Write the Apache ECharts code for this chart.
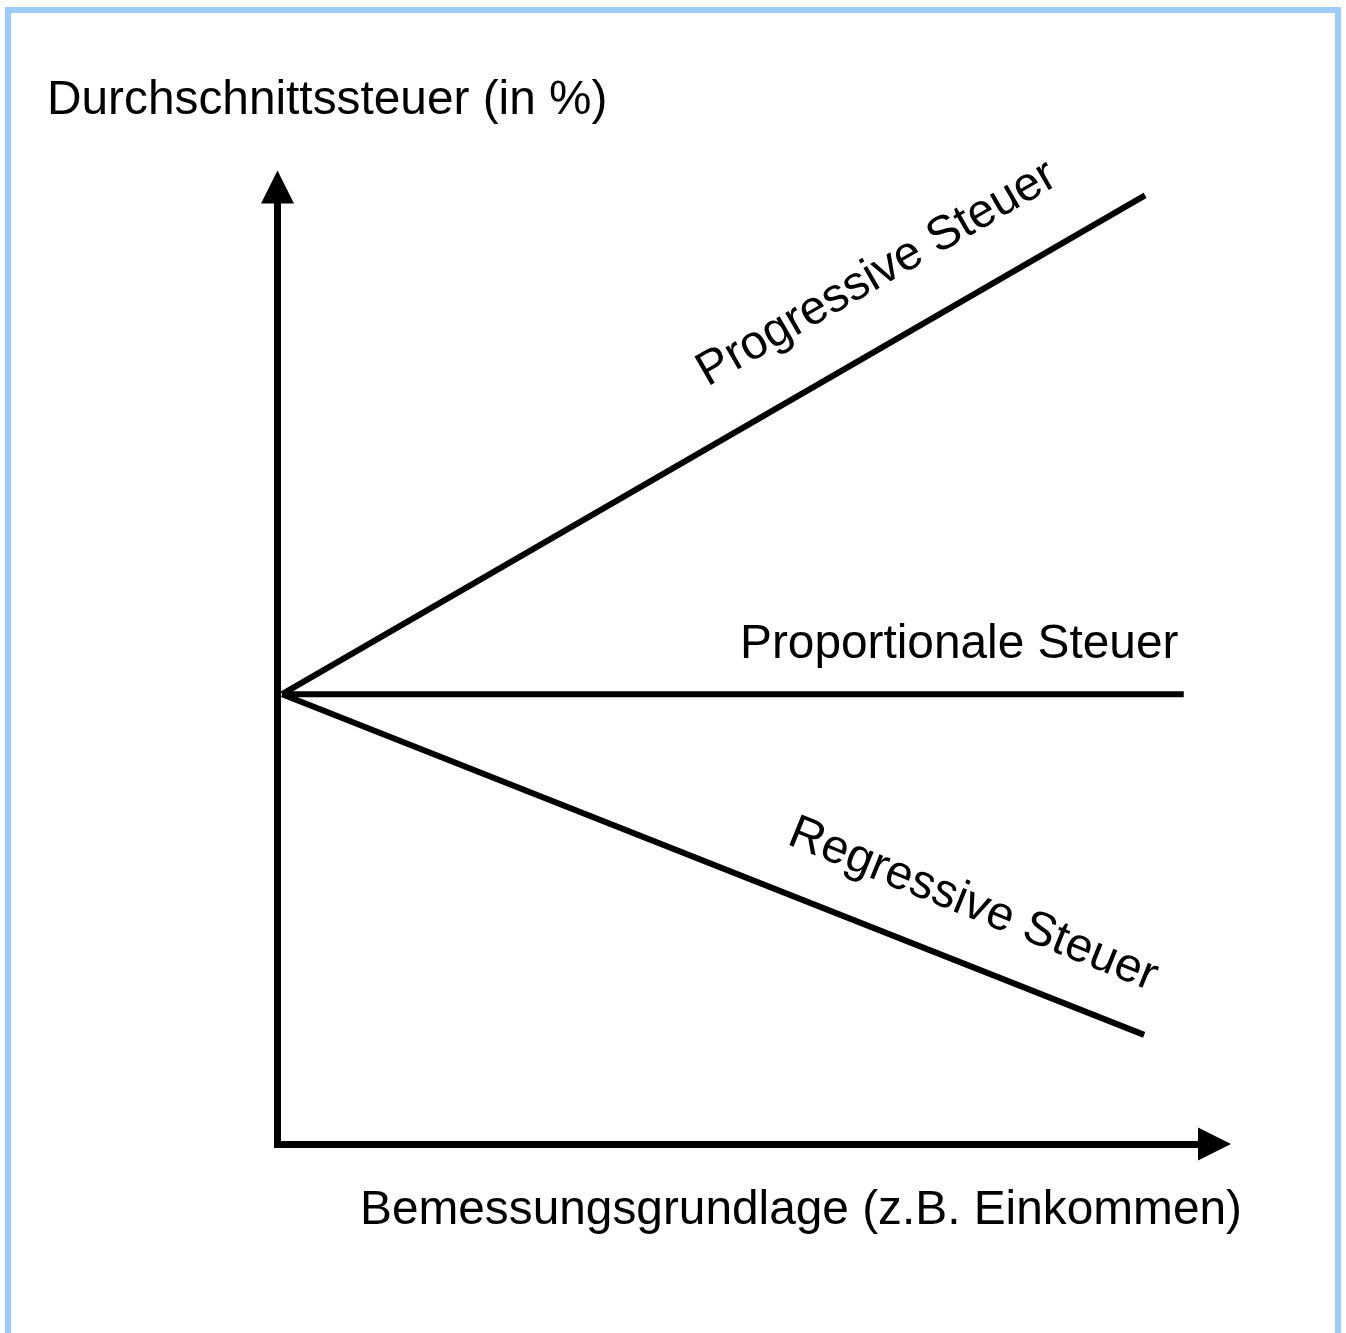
<!DOCTYPE html>
<html>
<head>
<meta charset="utf-8">
<script src="https://cdn.jsdelivr.net/npm/echarts@6/dist/echarts.min.js"></script>
<style>
  html, body { margin: 0; padding: 0; background: #fff; }
  #chart { width: 1346px; height: 1333px; }
</style>
</head>
<body>
<div id="chart"></div>
<script>
// income (x) from 0 to 100, average tax (y) from 0 to 100
const progressive = [[0.5, 47.8], [94.2, 100.8]]
const proportional = [[0.5, 47.8], [98.4, 47.8]]
const regressive = [[0.5, 47.8], [94.1, 11.6]]

const yTitle = 'Durchschnittssteuer (in %)'
const xTitle = 'Bemessungsgrundlage (z.B. Einkommen)'
const lineNames = ['Progressive Steuer', 'Proportionale Steuer', 'Regressive Steuer']

const font = 'Liberation Sans, Arial, Helvetica, sans-serif'

const chart = echarts.init(document.getElementById('chart'))

function axisOpt () {
  return {
    type: 'value',
    min: 0,
    max: 100,
    axisLine: {
      show: true,
      onZero: false,
      symbol: ['none', 'triangle'],
      symbolSize: [33, 33],
      symbolOffset: [0, 16],
      lineStyle: { color: '#000', width: 7, cap: 'square' }
    },
    axisTick: { show: false },
    axisLabel: { show: false },
    splitLine: { show: false }
  }
}

function lineSeries (name, data) {
  return {
    name: name,
    type: 'line',
    data: data,
    symbol: 'none',
    clip: false,
    silent: true,
    lineStyle: { color: '#000', width: 6 }
  }
}

function label (text, x, y, rot, align) {
  return {
    type: 'text',
    x: x,
    y: y,
    rotation: rot * Math.PI / 180,
    style: {
      text: text,
      font: '47.8px ' + font,
      fill: '#000',
      textAlign: align || 'center',
      textVerticalAlign: 'middle'
    }
  }
}

chart.setOption({
  animation: false,
  backgroundColor: '#fff',
  grid: { left: 277.5, top: 203, right: 147.5, bottom: 189 },
  xAxis: Object.assign(axisOpt(), { position: 'bottom' }),
  yAxis: Object.assign(axisOpt(), { position: 'left' }),
  series: [
    lineSeries(lineNames[0], progressive),
    lineSeries(lineNames[1], proportional),
    lineSeries(lineNames[2], regressive)
  ],
  graphic: [
    {
      type: 'rect',
      shape: { x: 8, y: 10, width: 1330, height: 1400 },
      style: { fill: 'none', stroke: '#9dcbfa', lineWidth: 6 },
      silent: true
    },
    label(yTitle, 47, 101, 0, 'left'),
    label(xTitle, 360, 1211, 0, 'left'),
    label(lineNames[1], 740, 645, 0, 'left'),
    label(lineNames[0], 877, 274, 30),
    label(lineNames[2], 973, 905, -22)
  ]
})
</script>
</body>
</html>
